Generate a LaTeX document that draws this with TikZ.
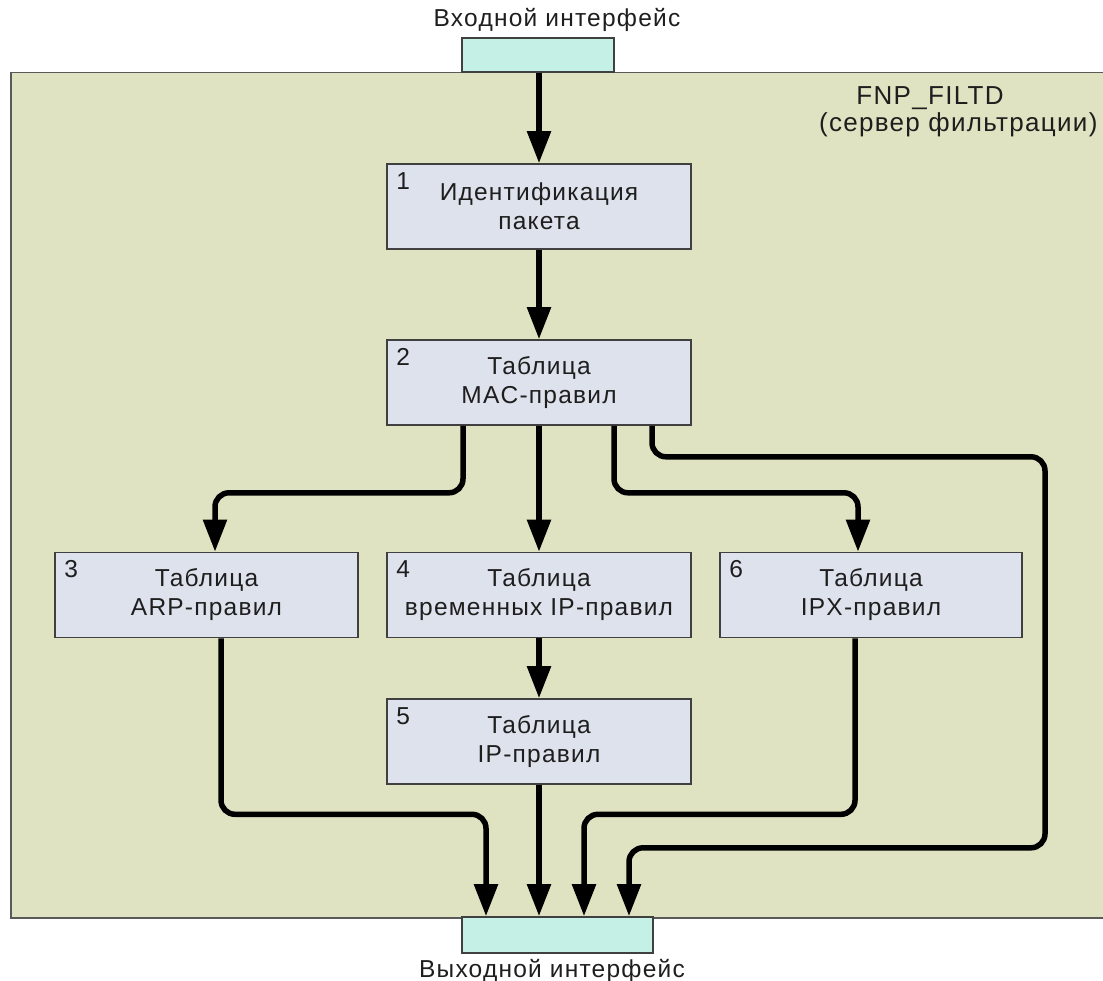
\documentclass[tikz,border=0pt]{standalone}
\usepackage{fontspec}
\setmainfont{Liberation Sans}[LetterSpace=5]
\usetikzlibrary{arrows.meta}
\definecolor{panelfill}{RGB}{224,227,193}
\definecolor{panelline}{RGB}{90,90,90}
\definecolor{stagefill}{RGB}{222,226,236}
\definecolor{stageline}{RGB}{64,64,64}
\definecolor{portfill}{RGB}{197,240,230}
\definecolor{labelgray}{RGB}{30,30,30}
\begin{document}
\begin{tikzpicture}[x=1pt,y=-1pt,
  every node/.style={font=\fontsize{24.5}{29}\selectfont, text=labelgray},
  titletext/.style={font=\fontsize{26}{29}\selectfont},
  panelbox/.style={draw=panelline, line width=1.5pt, fill=panelfill, inner sep=0pt, anchor=north west},
  stage/.style={draw=stageline, line width=1.6pt, fill=stagefill, minimum width=304pt, minimum height=85pt, align=center, inner sep=0pt},
  port/.style={draw=stageline, line width=1.6pt, fill=portfill, inner sep=0pt},
  stagenum/.style={anchor=base west, inner sep=0pt},
  flow/.style={draw=black, line width=5.5pt, rounded corners=14pt, -{Triangle[width=23pt,length=32pt]}}
]
\useasboundingbox (0,0) rectangle (1103,981);

% server frame
\node[panelbox, minimum width=1100pt, minimum height=845pt] (srv) at (10,72) {};
\node[titletext, anchor=base] (srvname) at (930,105) {FNP\_FILTD};
\node[titletext, anchor=base east] (srvrole) at (1101,132) {(сервер фильтрации)};

% interfaces
\node[port, minimum width=152pt, minimum height=34pt] (inp) at (538,55) {};
\node[anchor=base] (inplabel) at (557,27) {Входной интерфейс};
\node[port, minimum width=191pt, minimum height=36pt] (outp) at (557.5,935) {};
\node[anchor=base] (outlabel) at (552,977) {Выходной интерфейс};

% processing stages
\node[stage] (b1) at (539,206.5) {Идентификация\\пакета};
\node[stage] (b2) at (539,382.5) {Таблица\\MAC-правил};
\node[stage, minimum width=303pt] (b3) at (206.5,595) {Таблица\\ARP-правил};
\node[stage] (b4) at (539,595) {Таблица\\временных IP-правил};
\node[stage, minimum width=302pt] (b6) at (871,595) {Таблица\\IPX-правил};
\node[stage] (b5) at (539,741.5) {Таблица\\IP-правил};

\foreach \b/\n in {b1/1,b2/2,b3/3,b4/4,b5/5,b6/6}
  \node[stagenum] (\b num) at ([xshift=10pt,yshift=-26pt]\b.north west) {\n};

% packet flow
\draw[flow] (inp.south -| b1.north) -- (b1.north);
\draw[flow] (b1.south) -- (b2.north);
\draw[flow] (b2.south) -- (b4.north);
\draw[flow] (b4.south) -- (b5.north);
\draw[flow] (b5.south) -- (b5.south |- outp.north);
\draw[flow] ([xshift=-76pt]b2.south) -- ++(0,67) -| ([xshift=8.5pt]b3.north);
\draw[flow] ([xshift=75pt]b2.south) -- ++(0,67) -| ([xshift=-13pt]b6.north);
\draw[flow] ([xshift=113pt]b2.south) -- ++(0,31) -- ++(393,0) -- ++(0,391)
  -| ([xshift=71.5pt]outp.north);
\draw[flow] ([xshift=14.5pt]b3.south) -- ++(0,176) -| ([xshift=-71.5pt]outp.north);
\draw[flow] ([xshift=-16pt]b6.south) -- ++(0,176) -| ([xshift=26.5pt]outp.north);
\end{tikzpicture}
\end{document}
